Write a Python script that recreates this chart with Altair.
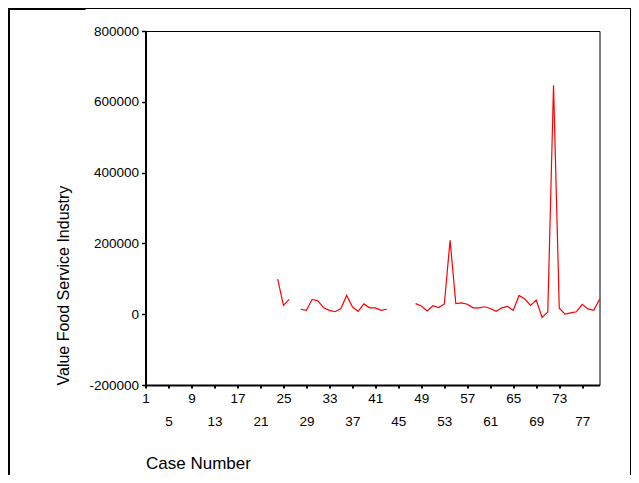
import altair as alt
import pandas as pd

cases = list(range(1, 81))
values = (
    [None] * 23
    + [99000, 25000, 42000]
    + [None]
    + [14000, 11000, 42000, 38000, 18000, 11000, 7000, 16000,
       53000, 21000, 8000, 29000, 18000, 18000, 11000, 14000]
    + [None] * 4
    + [30000, 23000, 9000, 24000, 19000, 29000, 209000, 30000, 32000, 28000,
       18000, 18000, 21000, 16000, 8000, 18000, 22000, 11000, 53000, 43000,
       25000, 40000, -9000, 6000, 647000, 17000, 0, 3500, 7000, 28000,
       15000, 11000, 42000]
)
assert len(values) == len(cases)

x_ticks = list(range(1, 80, 4))
y_ticks = [-200000, 0, 200000, 400000, 600000, 800000]

df = pd.DataFrame({"case": cases, "value": values})

FONT = "Liberation Sans"
W, H = 454, 354
PL, PT = 137.5, 23
PR = 623 - PL - W
PB = 467 - PT - H

line = alt.Chart(df).mark_line(
    color="#FF0000", strokeWidth=1.2, invalid="break-paths-show-domains"
).encode(
    x=alt.X(
        "case:Q",
        scale=alt.Scale(domain=[1, 80], nice=False, zero=False),
        axis=alt.Axis(
            values=x_ticks,
            title="Case Number",
            labelExpr="((datum.value - 1) % 8 == 0) ? datum.label : ['', datum.label]",
            labelLineHeight=23,
            labelOverlap=False,
            labelFlush=False,
            labelPadding=3,
            tickSize=3,
            tickWidth=2,
            tickColor="#000000",
            domainWidth=2,
            domainColor="#000000",
            grid=False,
            titleX=0,
            titleY=78,
            titleAlign="left",
            titleBaseline="middle",
            titleAnchor="start",
            titleFontSize=17,
        ),
    ),
    y=alt.Y(
        "value:Q",
        scale=alt.Scale(domain=[-200000, 800000], nice=False, zero=False),
        axis=alt.Axis(
            values=y_ticks,
            labelExpr="'' + datum.value",
            title="Value Food Service Industry",
            labelPadding=3,
            tickSize=4,
            tickWidth=1.5,
            tickColor="#000000",
            domainWidth=2,
            domainColor="#000000",
            grid=False,
            titleX=-82,
            titleY=H,
            titleAngle=270,
            titleAlign="left",
            titleBaseline="middle",
            titleFontSize=16,
        ),
    ),
)

frame_df = pd.DataFrame({"k": [0]})
left_border = alt.Chart(frame_df).mark_rule(color="#000000", strokeWidth=2).encode(
    x=alt.value(-PL + 1), y=alt.value(-PT), y2=alt.value(H + PB)
)
right_border = alt.Chart(frame_df).mark_rule(color="#000000", strokeWidth=1).encode(
    x=alt.value(W + PR - 0.5), y=alt.value(-PT), y2=alt.value(H + PB)
)
top_border = alt.Chart(frame_df).mark_rule(color="#000000", strokeWidth=1).encode(
    x=alt.value(-PL), x2=alt.value(W + PR), y=alt.value(-PT + 0.5)
)
top_thick = alt.Chart(frame_df).mark_rule(color="#000000", strokeWidth=2).encode(
    x=alt.value(-PL), x2=alt.value(-60), y=alt.value(-PT + 1)
)

chart = (
    alt.layer(line, left_border, right_border, top_border, top_thick)
    .properties(
        width=W,
        height=H,
        autosize=alt.AutoSizeParams(type="none"),
        padding={"left": PL, "top": PT, "right": PR, "bottom": PB},
        background="#FFFFFF",
    )
    .configure_view(stroke="#000000", strokeWidth=1)
    .configure_axis(
        labelFont=FONT,
        labelFontSize=13.5,
        labelColor="#000000",
        titleFont=FONT,
        titleFontWeight="normal",
        titleColor="#000000",
    )
)

chart.save("out.html", embed_options={"renderer": "svg", "actions": False})
